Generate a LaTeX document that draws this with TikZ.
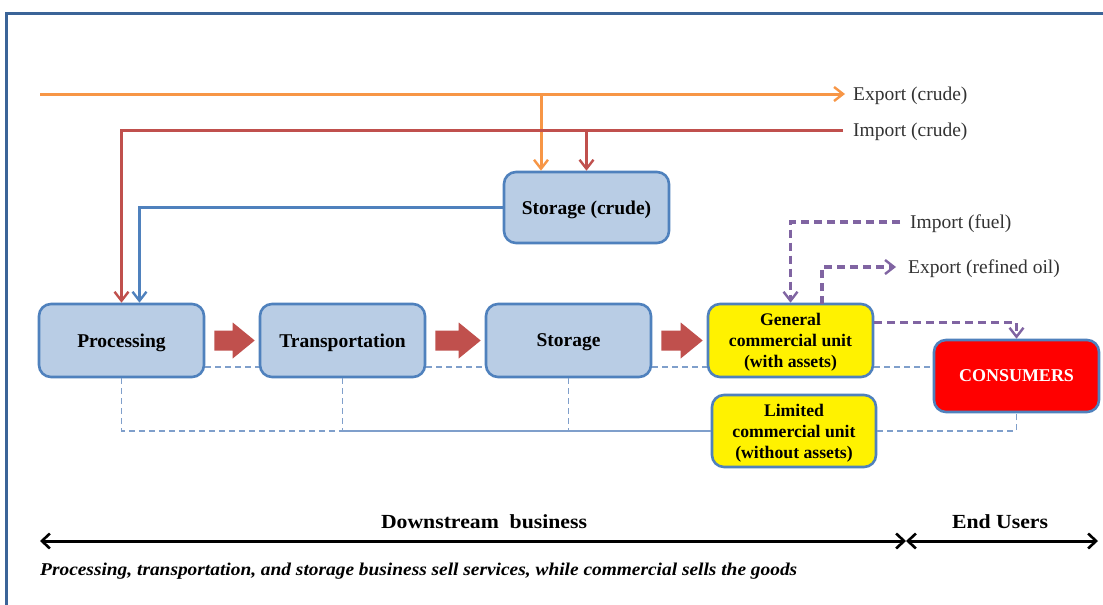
\documentclass[tikz,border=0pt]{standalone}
\usepackage{fontspec}
\setmainfont{Liberation Serif}
\usetikzlibrary{arrows.meta,calc}
\definecolor{boxblue}{HTML}{B9CDE5}
\definecolor{edgeblue}{HTML}{4F81BD}
\definecolor{frameblue}{HTML}{3B6498}
\definecolor{orangeline}{HTML}{F79646}
\definecolor{redline}{HTML}{C0504D}
\definecolor{purpleline}{HTML}{8064A2}
\definecolor{dashblue}{HTML}{7F9FCB}
\tikzset{
  stagebox/.style={draw=edgeblue, line width=2.6pt, rounded corners=12pt, fill=boxblue, inner sep=0pt,
    minimum width=165pt, minimum height=73pt, font=\fontsize{19.5}{21}\selectfont\bfseries, align=center,
    text depth=0pt},
  yellowbox/.style={stagebox, fill=yellow, font=\fontsize{17.7}{21}\selectfont\bfseries},
  redbox/.style={stagebox, fill=red, text=white, font=\fontsize{18}{21}\selectfont\bfseries},
  flowtip/.style={-{Straight Barb[length=9pt,width=14pt,line width=2.4pt]}},
  orangeflow/.style={draw=orangeline, line width=3pt},
  redflow/.style={draw=redline, line width=3pt},
  blueflow/.style={draw=edgeblue, line width=3pt},
  purpleflow/.style={draw=purpleline, line width=3.2pt, dash pattern=on 8pt off 5pt},
  thindash/.style={draw=dashblue, line width=1.3pt, dash pattern=on 6pt off 4pt},
  thinsolid/.style={draw=dashblue, line width=1.3pt},
  lbl/.style={anchor=west, font=\fontsize{19.5}{21}\selectfont, text=black!80, inner sep=0pt},
  blockarrow/.style={fill=redline, draw=none},
  spanarrow/.style={draw=black, line width=3pt, {Straight Barb[length=8pt,width=15pt,line width=2.6pt]}-{Straight Barb[length=8pt,width=15pt,line width=2.6pt]}},
  headlbl/.style={font=\fontsize{20}{22}\selectfont\bfseries, inner sep=0pt}
}
\begin{document}
\begin{tikzpicture}[x=1pt,y=-1pt]
\useasboundingbox (0,0) rectangle (1103,605);
\fill[white] (0,0) rectangle (1103,605);
% frame
\draw[frameblue, line width=3pt] (6,605) -- (6,13) -- (1103,13);

% nodes
\node[stagebox] (p) at (121.5,340.5) {Processing};
\node[stagebox] (t) at (342.5,340.5) {Transportation};
\node[stagebox] (s) at (568.5,340.5) {Storage};
\node[stagebox, minimum height=71pt] (sc) at (586.5,207.5) {Storage (crude)};
\node[yellowbox] (g) at (790.5,340.5) {General\\commercial unit\\(with assets)};
\node[yellowbox, minimum width=164pt, minimum height=72pt] (l) at (794,431) {Limited\\commercial unit\\(without assets)};
\node[redbox, minimum height=72pt] (c) at (1016.5,376) {CONSUMERS};

% labels
\node[lbl] (lexc) at (853,96) {Export (crude)};
\node[lbl] (limc) at (853,132) {Import (crude)};
\node[lbl] (limf) at (910,224) {Import (fuel)};
\node[lbl] (lexr) at (908,269) {Export (refined oil)};

% coordinates
\coordinate (ostart) at (40,94);
\coordinate (oend) at (845,94);
\coordinate (obranch) at (541,94);
\coordinate (rstart) at (843,130);
\coordinate (ifstart) at (900,222);
\coordinate (ifturn) at (790.5,222);
\coordinate (erend) at (896,267);
\coordinate (erstart) at (822,304);
\coordinate (dl) at (0,367);
\coordinate (bl) at (0,431);

% orange export (crude)
\draw[orangeflow, flowtip] (ostart) -- (oend);
\draw[orangeflow, flowtip] (obranch) -- (obranch |- sc.north);
% red import (crude)
\draw[redflow, flowtip] (rstart) -- (p.north |- rstart) -- (p.north);
\draw[redflow, flowtip] (sc.north |- rstart) -- (sc.north);
% blue storage crude -> processing
\draw[blueflow, flowtip] (sc.west) -- ($(p.north |- sc.west)+(18,0)$) -- ($(p.north)+(18,0)$);

% purple
\draw[purpleflow, flowtip] (ifstart) -- (ifturn) -- (g.north);
\draw[purpleflow, flowtip] (erstart) -- (erstart |- erend) -- (erend);
\draw[purpleflow, flowtip] ($(g.east)+(0,-18)$) -- ($(c.north |- g.east)+(0,-18)$) -- (c.north);

% block arrows
\foreach \a/\b in {p/t, t/s, s/g}{
  \fill[blockarrow] ($(\a.east)+(9,-10)$) -- ($(\b.west)+(-26,-10)$) -- ($(\b.west)+(-26,-18)$)
    -- ($(\b.west)+(-4,0)$) -- ($(\b.west)+(-26,18)$) -- ($(\b.west)+(-26,10)$) -- ($(\a.east)+(9,10)$) -- cycle;
}

% dashed links at y=367
\draw[thindash] (p.east |- dl) -- (t.west |- dl);
\draw[thindash] (t.east |- dl) -- (s.west |- dl);
\draw[thindash] (s.east |- dl) -- (g.west |- dl);
\draw[thindash] (g.east |- dl) -- (c.west |- dl);

% bottom links
\draw[thindash] (p.south) -- (p.south |- bl) -- (t.south |- bl);
\draw[thindash] (t.south) -- (t.south |- bl);
\draw[thindash] (s.south) -- (s.south |- bl);
\draw[thinsolid] (t.south |- bl) -- (l.west);
\draw[thindash] (l.east) -- (c.south |- l.east) -- (c.south);

% bottom span arrows
\coordinate (a1) at (40,541);
\coordinate (a2) at (906,541);
\coordinate (a3) at (1098,541);
\draw[spanarrow] (a1) -- (a2);
\draw[spanarrow] (a2) -- (a3);
\node[headlbl] (ds) at (484,522) {\resizebox{206pt}{\height}{Downstream\ \ business}};
\node[headlbl] (eu) at (1000,522) {\resizebox{96pt}{\height}{End Users}};
\node[anchor=west, inner sep=0pt] (note) at (40,571) {\resizebox{757pt}{\height}{\fontsize{18}{20}\selectfont\bfseries\itshape Processing, transportation, and storage business sell services, while commercial sells the goods}};
\end{tikzpicture}
\end{document}
